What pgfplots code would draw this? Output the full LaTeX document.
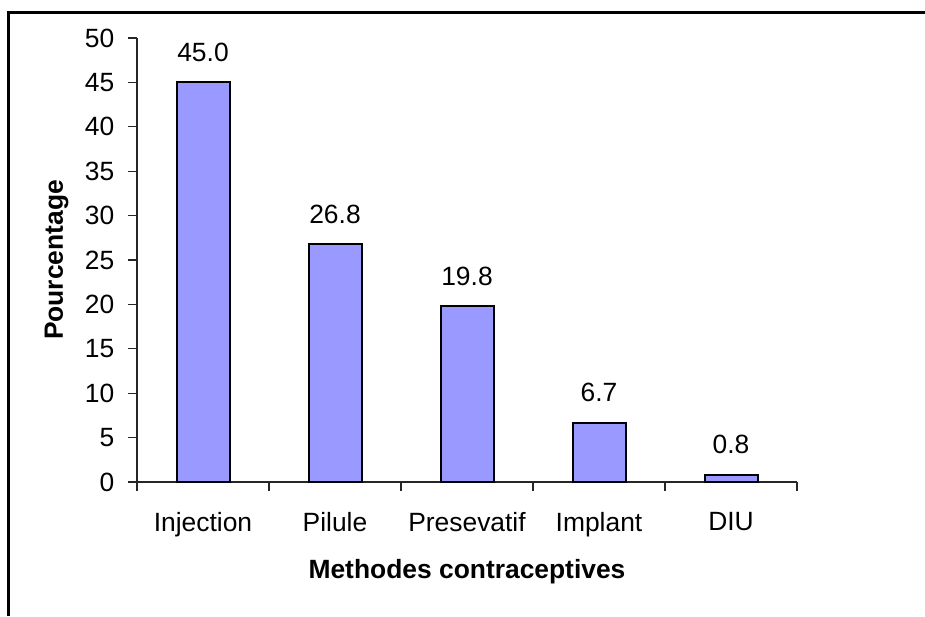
\documentclass[border=0pt]{standalone}
\usepackage{pgfplots}
\pgfplotsset{compat=1.18}
\usepackage{fontspec}
\setmainfont{Liberation Sans}
\definecolor{barblue}{HTML}{9999FF}
\begin{document}
\begin{tikzpicture}[x=1pt,y=1pt]
\useasboundingbox (0,0) rectangle (462.5,308);
\draw[line width=1.5pt] (4,0) -- (4,301.5) -- (462.5,301.5);
\begin{axis}[
  at={(68.5pt,67pt)}, anchor=south west,
  scale only axis, width=330pt, height=222pt,
  xmin=0, xmax=5, ymin=0, ymax=50,
  axis lines*=left,
  axis line style={line width=0.75pt, black!85},
  every tick/.style={line width=0.6pt, black!85},
  tick align=outside, major tick length=4.3pt,
  /pgf/number format/assume math mode=true,
  ytick={0,5,...,50},
  xtick={0,1,2,3,4,5}, xticklabels={},
  extra x ticks={0.5,1.5,2.5,3.5,4.5},
  extra x tick labels={Injection,Pilule,Presevatif,Implant,DIU},
  extra x tick style={major tick length=0pt},
  tick label style={font=\fontsize{13.2}{15}\selectfont},
  yticklabel style={xshift=-3.5pt},
  xticklabel style={yshift=-11.5pt},
  label style={font=\bfseries\fontsize{13.2}{15}\selectfont},
  xlabel={Methodes contraceptives},
  ylabel={Pourcentage},
  xlabel style={at={(axis description cs:0.5,-0.2027)}, anchor=center},
  ylabel style={at={(axis description cs:-0.122,0.5)}, anchor=center, rotate=0},
  ybar, bar width=26.5pt,
  nodes near coords={\pgfmathprintnumber[fixed,fixed zerofill,precision=1]{\pgfplotspointmeta}},
  nodes near coords style={font=\fontsize{13.2}{15}\selectfont, yshift=6.5pt},
  clip=false,
]
\addplot[fill=barblue, draw=black, line width=1pt] coordinates {
  (0.5,45.0) (1.5,26.8) (2.5,19.8) (3.5,6.7) (4.5,0.8)
};
\end{axis}
\end{tikzpicture}
\end{document}
